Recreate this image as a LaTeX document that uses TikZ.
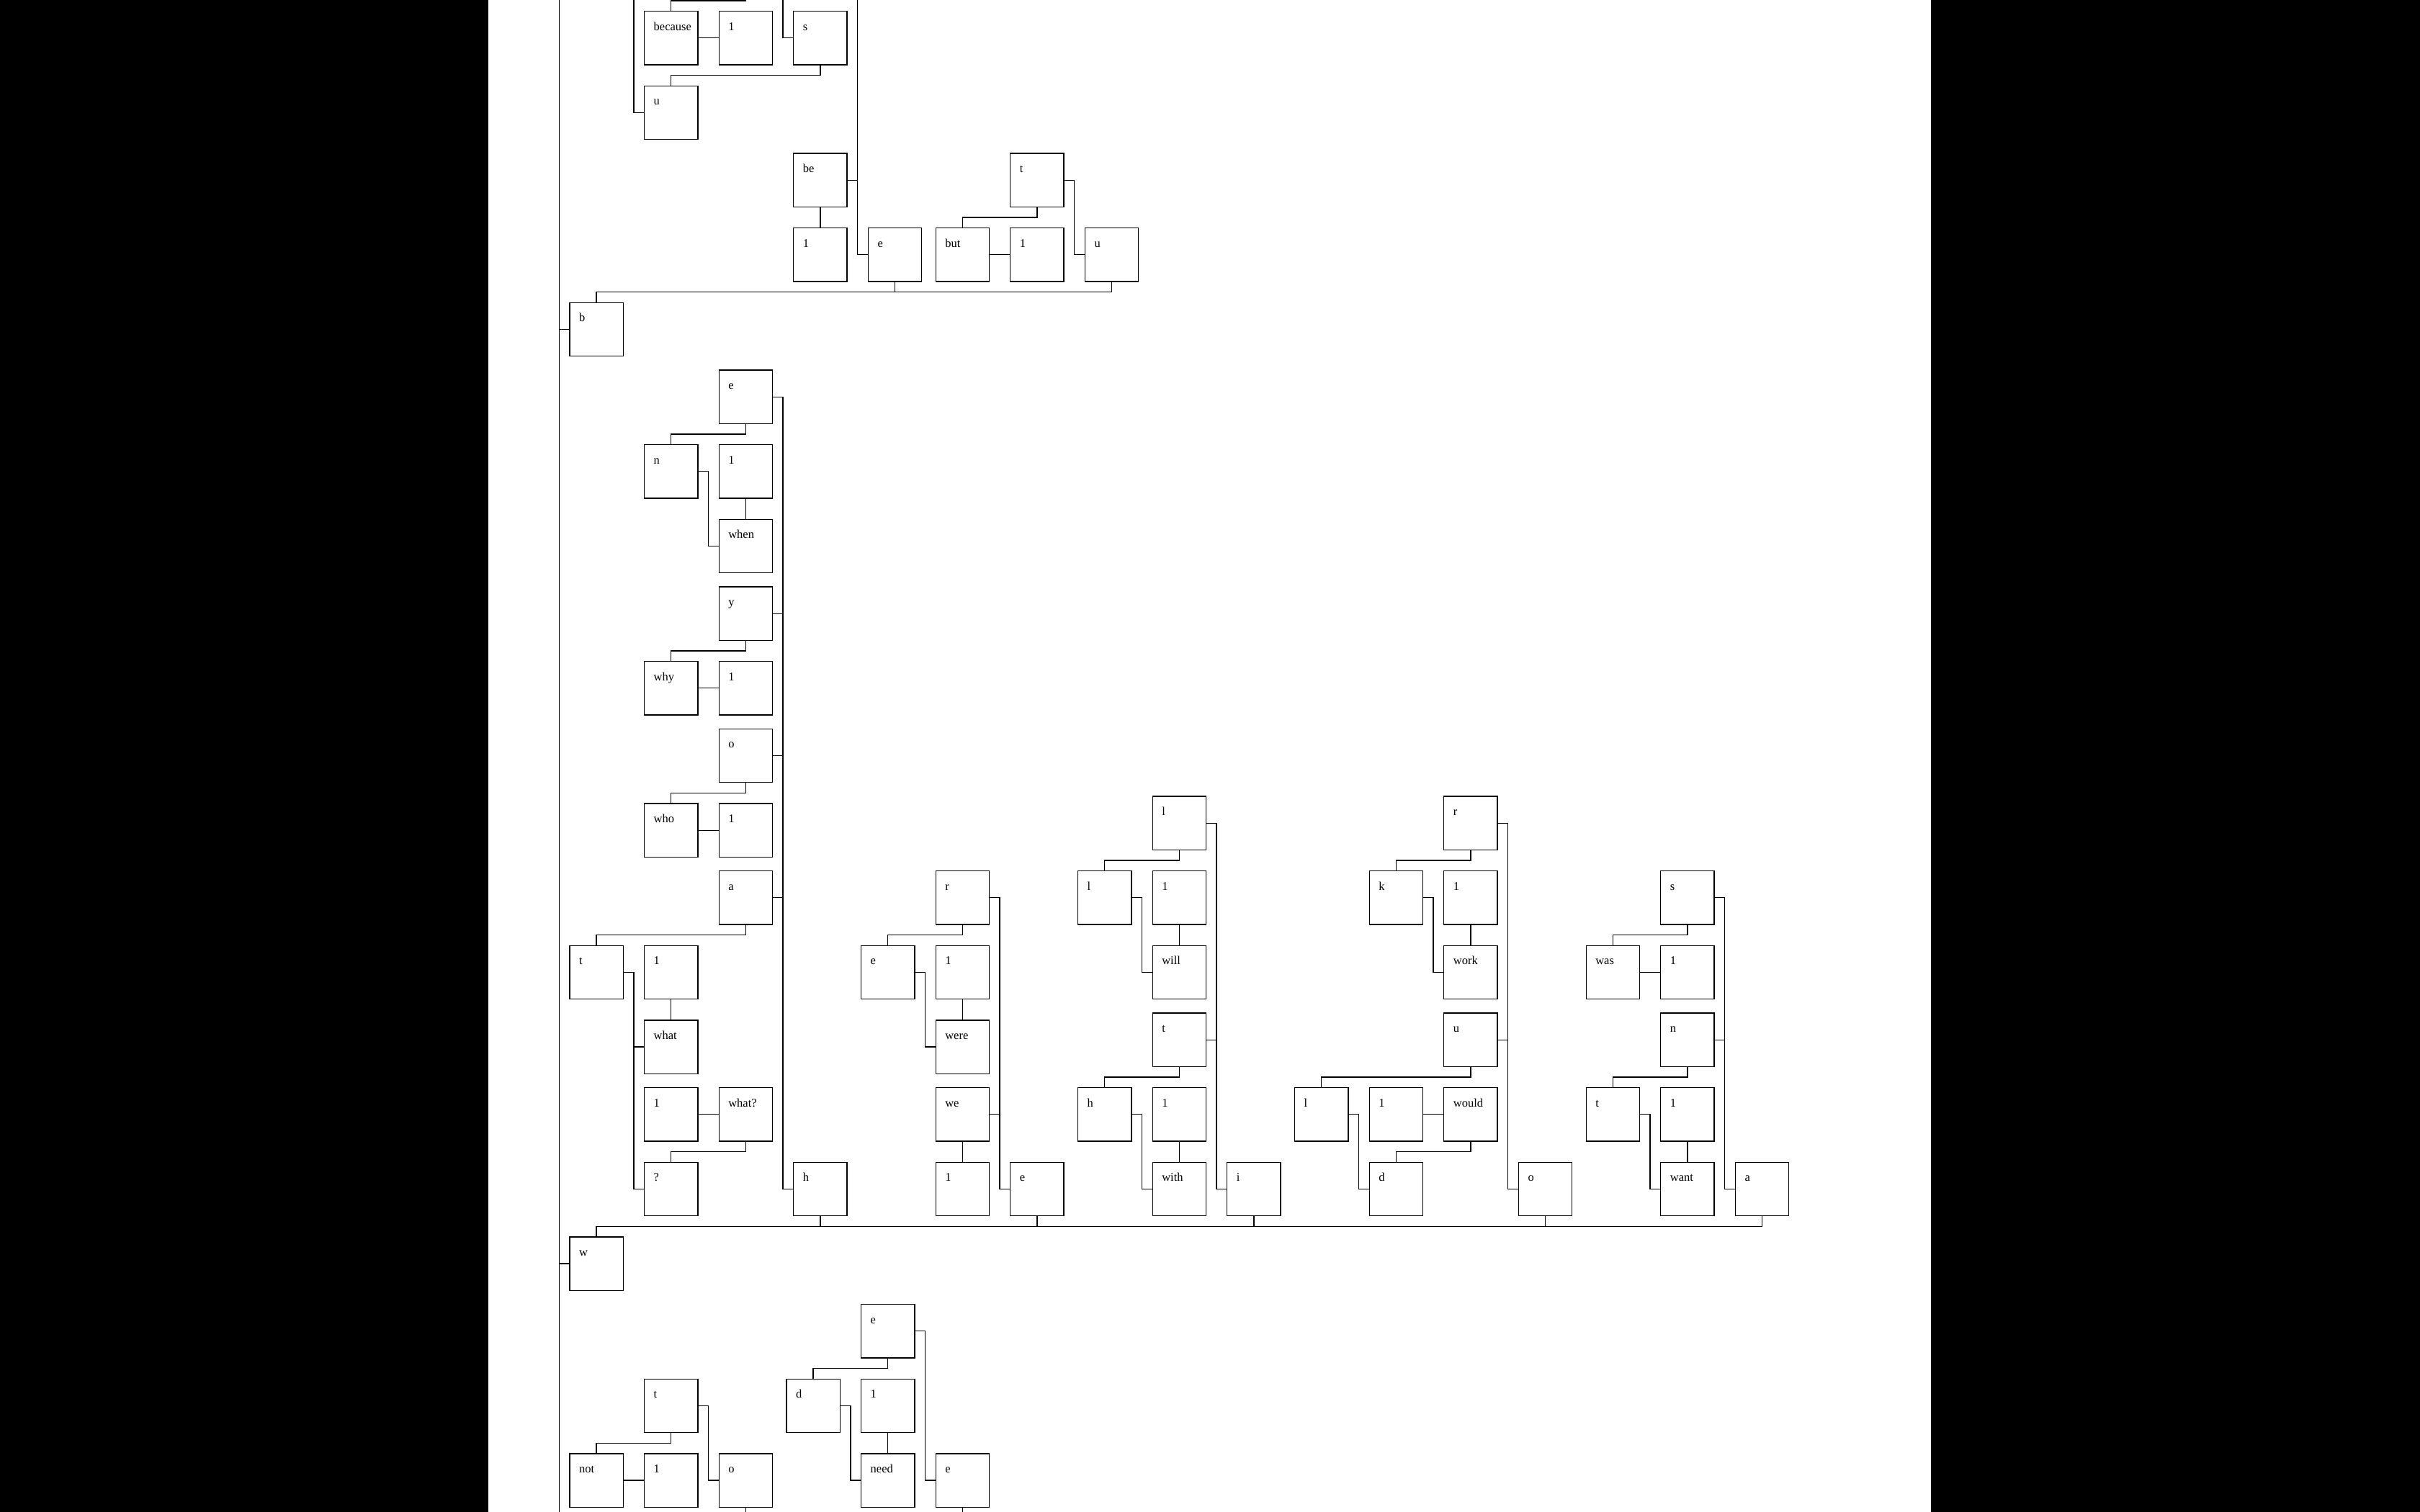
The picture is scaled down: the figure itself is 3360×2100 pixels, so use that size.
\documentclass[tikz,border=0pt]{standalone}
\usepackage{fontspec}
\setmainfont{Liberation Serif}
\usetikzlibrary{positioning}

\begin{document}
\begin{tikzpicture}[x=1pt, y=-1pt, line width=1.3pt,
  word/.style={anchor=base west, inner sep=0pt, xshift=12.5pt, yshift=-26.5pt,
               font=\fontsize{16.5}{18}\selectfont},
  cell/.style={draw, minimum width=74.3pt, minimum height=74.3pt,
               inner sep=0pt, outer sep=0pt, label={[word]north west:#1}}]
  \useasboundingbox (0,0) rectangle (3360,2100);
  \fill[black] (0,0) rectangle (3360,2100);
  \fill[white] (677.5,0) rectangle (2681,2100);

  % ends that leave the page
  \coordinate (rootTop) at (776.3,-20);
  \coordinate (rootBot) at (776.3,2120);
  \coordinate (offBec) at (1035.3,-20);
  \coordinate (offS) at (1087.1,-20);
  \coordinate (offU) at (879.9,-20);
  \coordinate (offE) at (1190.7,-20);
  \coordinate (offO) at (1035.3,2120);
  \coordinate (offEne) at (1336.3,2120);

  % b
  \node[cell=because] (because) at (931.7,52.8) {};
  \node[cell=1]       (onebec)  at (1035.3,52.8) {};
  \node[cell=s]       (sbec)    at (1138.9,52.8) {};
  \node[cell=u]       (ubec)    at (931.7,156.4) {};
  \node[cell=be]      (be)      at (1138.9,250.2) {};
  \node[cell=t]       (tbut)    at (1439.9,250.2) {};
  \node[cell=1]       (onebe)   at (1138.9,353.8) {};
  \node[cell=e]       (ebe)     at (1242.5,353.8) {};
  \node[cell=but]     (but)     at (1336.3,353.8) {};
  \node[cell=1]       (onebut)  at (1439.9,353.8) {};
  \node[cell=u]       (ubu)     at (1543.5,353.8) {};
  \node[cell=b]       (b)       at (828.1,457.4) {};

  % wh
  \node[cell=e]     (ewhe)     at (1035.3,551.2) {};
  \node[cell=n]     (nwhen)    at (931.7,654.8) {};
  \node[cell=1]     (onewhen)  at (1035.3,654.8) {};
  \node[cell=when]  (when)     at (1035.3,758.4) {};
  \node[cell=y]     (ywhy)     at (1035.3,852.2) {};
  \node[cell=why]   (why)      at (931.7,955.8) {};
  \node[cell=1]     (onewhy)   at (1035.3,955.8) {};
  \node[cell=o]     (owho)     at (1035.3,1049.6) {};
  \node[cell=who]   (who)      at (931.7,1153.2) {};
  \node[cell=1]     (onewho)   at (1035.3,1153.2) {};
  \node[cell=a]     (awha)     at (1035.3,1246.8) {};
  \node[cell=t]     (twhat)    at (828.1,1350.4) {};
  \node[cell=1]     (onewhat)  at (931.7,1350.4) {};
  \node[cell=what]  (what)     at (931.7,1454) {};
  \node[cell=1]     (onewhatq) at (931.7,1547.8) {};
  \node[cell=what?] (whatq)    at (1035.3,1547.8) {};
  \node[cell=?]     (qmark)    at (931.7,1651.4) {};
  \node[cell=h]     (hwh)      at (1138.9,1651.4) {};

  % we
  \node[cell=r]    (rwer)    at (1336.3,1246.8) {};
  \node[cell=e]    (ewere)   at (1232.7,1350.4) {};
  \node[cell=1]    (onewere) at (1336.3,1350.4) {};
  \node[cell=were] (were)    at (1336.3,1454) {};
  \node[cell=we]   (we)      at (1336.3,1547.8) {};
  \node[cell=1]    (onewe)   at (1336.3,1651.4) {};
  \node[cell=e]    (ewe)     at (1439.9,1651.4) {};

  % wi
  \node[cell=l]    (lwil)    at (1637.3,1143.2) {};
  \node[cell=l]    (lwill)   at (1533.7,1246.8) {};
  \node[cell=1]    (onewill) at (1637.3,1246.8) {};
  \node[cell=will] (will)    at (1637.3,1350.4) {};
  \node[cell=t]    (twit)    at (1637.3,1444.2) {};
  \node[cell=h]    (hwith)   at (1533.7,1547.8) {};
  \node[cell=1]    (onewith) at (1637.3,1547.8) {};
  \node[cell=with] (with)    at (1637.3,1651.4) {};
  \node[cell=i]    (iwi)     at (1740.9,1651.4) {};

  % wo
  \node[cell=r]     (rwor)     at (2041.9,1143.2) {};
  \node[cell=k]     (kwork)    at (1938.3,1246.8) {};
  \node[cell=1]     (onework)  at (2041.9,1246.8) {};
  \node[cell=work]  (work)     at (2041.9,1350.4) {};
  \node[cell=u]     (uwou)     at (2041.9,1444.2) {};
  \node[cell=l]     (lwoul)    at (1834.7,1547.8) {};
  \node[cell=1]     (onewould) at (1938.3,1547.8) {};
  \node[cell=would] (would)    at (2041.9,1547.8) {};
  \node[cell=d]     (dwould)   at (1938.3,1651.4) {};
  \node[cell=o]     (owo)      at (2145.5,1651.4) {};

  % wa
  \node[cell=s]    (swas)    at (2342.9,1246.8) {};
  \node[cell=was]  (was)     at (2239.3,1350.4) {};
  \node[cell=1]    (onewas)  at (2342.9,1350.4) {};
  \node[cell=n]    (nwan)    at (2342.9,1444.2) {};
  \node[cell=t]    (twant)   at (2239.3,1547.8) {};
  \node[cell=1]    (onewant) at (2342.9,1547.8) {};
  \node[cell=want] (want)    at (2342.9,1651.4) {};
  \node[cell=a]    (awa)     at (2446.5,1651.4) {};

  \node[cell=w] (w) at (828.1,1755) {};

  % n
  \node[cell=e]    (enee)    at (1232.7,1848.8) {};
  \node[cell=t]    (tnot)    at (931.7,1952.4) {};
  \node[cell=d]    (dneed)   at (1129.1,1952.4) {};
  \node[cell=1]    (oneneed) at (1232.7,1952.4) {};
  \node[cell=not]  (notw)    at (828.1,2056) {};
  \node[cell=1]    (onenot)  at (931.7,2056) {};
  \node[cell=o]    (ono)     at (1035.3,2056) {};
  \node[cell=need] (need)    at (1232.7,2056) {};
  \node[cell=e]    (ene)     at (1336.3,2056) {};

  % root bus
  \draw (rootTop) -- (rootBot);
  \draw (b.west) -- ++(-14.65,0);
  \draw (w.west) -- ++(-14.65,0);

  % b links
  \draw (because.north) -- ++(0,-14.65) -| (offBec);
  \draw (because.east) -- (onebec.west);
  \draw (sbec.west) -| (offS);
  \draw (sbec.south) -- ++(0,14.65) -| (ubec.north);
  \draw (ubec.west) -| (offU);
  \draw (ebe.west) -| (offE);
  \draw (ebe.west) -- ++(-14.65,0) |- (be.east);
  \draw (be.south) -- (onebe.north);
  \draw (tbut.east) -- ++(14.65,0) |- (ubu.west);
  \draw (tbut.south) -- ++(0,14.65) -| (but.north);
  \draw (but.east) -- (onebut.west);
  \draw (ebe.south) -- ++(0,14.65) -| (b.north);
  \draw (ubu.south) -- ++(0,14.65) -| (b.north);

  % w links
  \foreach \c in {hwh,ewe,iwi,owo,awa}
    \draw (\c.south) -- ++(0,14.65) -| (w.north);

  \foreach \c in {ewhe,ywhy,owho,awha}
    \draw (hwh.west) -- ++(-14.65,0) |- (\c.east);
  \draw (ewhe.south) -- ++(0,14.65) -| (nwhen.north);
  \draw (nwhen.east) -- ++(14.65,0) |- (when.west);
  \draw (onewhen.south) -- (when.north);
  \draw (ywhy.south) -- ++(0,14.65) -| (why.north);
  \draw (why.east) -- (onewhy.west);
  \draw (owho.south) -- ++(0,14.65) -| (who.north);
  \draw (who.east) -- (onewho.west);
  \draw (awha.south) -- ++(0,14.65) -| (twhat.north);
  \draw (twhat.east) -- ++(14.65,0) |- (what.west);
  \draw (twhat.east) -- ++(14.65,0) |- (qmark.west);
  \draw (onewhat.south) -- (what.north);
  \draw (onewhatq.east) -- (whatq.west);
  \draw (whatq.south) -- ++(0,14.65) -| (qmark.north);

  \draw (ewe.west) -- ++(-14.65,0) |- (rwer.east);
  \draw (ewe.west) -- ++(-14.65,0) |- (we.east);
  \draw (rwer.south) -- ++(0,14.65) -| (ewere.north);
  \draw (ewere.east) -- ++(14.65,0) |- (were.west);
  \draw (onewere.south) -- (were.north);
  \draw (we.south) -- (onewe.north);

  \draw (iwi.west) -- ++(-14.65,0) |- (lwil.east);
  \draw (iwi.west) -- ++(-14.65,0) |- (twit.east);
  \draw (lwil.south) -- ++(0,14.65) -| (lwill.north);
  \draw (lwill.east) -- ++(14.65,0) |- (will.west);
  \draw (onewill.south) -- (will.north);
  \draw (twit.south) -- ++(0,14.65) -| (hwith.north);
  \draw (hwith.east) -- ++(14.65,0) |- (with.west);
  \draw (onewith.south) -- (with.north);

  \draw (owo.west) -- ++(-14.65,0) |- (rwor.east);
  \draw (owo.west) -- ++(-14.65,0) |- (uwou.east);
  \draw (rwor.south) -- ++(0,14.65) -| (kwork.north);
  \draw (kwork.east) -- ++(14.65,0) |- (work.west);
  \draw (onework.south) -- (work.north);
  \draw (uwou.south) -- ++(0,14.65) -| (lwoul.north);
  \draw (lwoul.east) -- ++(14.65,0) |- (dwould.west);
  \draw (onewould.east) -- (would.west);
  \draw (would.south) -- ++(0,14.65) -| (dwould.north);

  \draw (awa.west) -- ++(-14.65,0) |- (swas.east);
  \draw (awa.west) -- ++(-14.65,0) |- (nwan.east);
  \draw (swas.south) -- ++(0,14.65) -| (was.north);
  \draw (was.east) -- (onewas.west);
  \draw (nwan.south) -- ++(0,14.65) -| (twant.north);
  \draw (twant.east) -- ++(14.65,0) |- (want.west);
  \draw (onewant.south) -- (want.north);

  % n links
  \draw (tnot.south) -- ++(0,14.65) -| (notw.north);
  \draw (notw.east) -- (onenot.west);
  \draw (tnot.east) -- ++(14.65,0) |- (ono.west);
  \draw (ono.south) -- (offO);
  \draw (enee.south) -- ++(0,14.65) -| (dneed.north);
  \draw (dneed.east) -- ++(14.65,0) |- (need.west);
  \draw (oneneed.south) -- (need.north);
  \draw (enee.east) -- ++(14.65,0) |- (ene.west);
  \draw (ene.south) -- (offEne);
\end{tikzpicture}
\end{document}
